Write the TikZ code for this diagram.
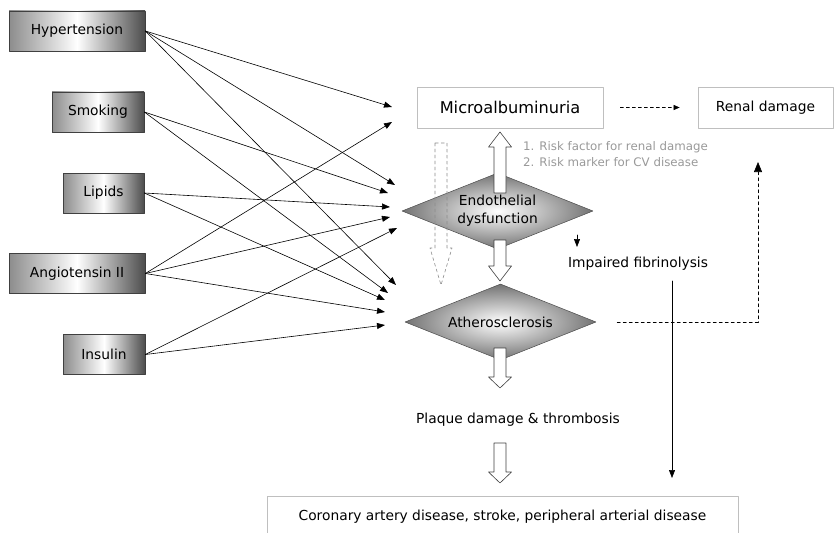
\documentclass[tikz,border=0pt]{standalone}
\usepackage{fontspec}
\setmainfont{DejaVu Sans}
\usepackage{tikz}
\usetikzlibrary{arrows.meta,shapes.geometric,positioning}

\tikzset{
  cause/.style={draw=black!75, line width=0.7pt, left color=black!45, right color=black!70,
    middle color=white, minimum height=40pt, inner sep=0pt, font=\fontsize{13.8}{16}\selectfont},
  outcome/.style={draw=black!25, line width=0.7pt, fill=white, minimum height=41pt, inner sep=0pt,
    font=\fontsize{13.8}{16}\selectfont},
  lesion/.style={diamond, aspect=2.5, minimum width=191pt, minimum height=76pt, inner sep=0pt,
    draw=black!70, line width=0.5pt, inner color=white, outer color=black!55,
    font=\fontsize{13.8}{16}\selectfont},
  feed/.style={line width=0.6pt, -{Triangle[length=8pt,width=6pt]}},
  hollow/.style={draw=black!75, line width=0.6pt, fill=white},
  label/.style={inner sep=0pt, font=\fontsize{13.8}{16}\selectfont}
}

\begin{document}
\begin{tikzpicture}[line cap=round,line join=round,x=1pt,y=-1pt]
\clip (0,0) rectangle (834,532);
% risk factors
\node[cause, minimum width=136pt] (hyper) at (77,31) {Hypertension};
\node[cause, minimum width=92pt] (smoke) at (98,112) {Smoking};
\node[cause, minimum width=81pt] (lipid) at (103.5,193) {Lipids};
\node[cause, minimum width=136pt] (angio) at (77,273.5) {Angiotensin II};
\node[cause, minimum width=82pt] (insul) at (104,354.5) {Insulin};

% where the arrows stop
\coordinate (m1) at (392,107);
\coordinate (m2) at (392,122);
\coordinate (e1) at (395,185);
\coordinate (e2) at (388,193);
\coordinate (e3) at (390,207);
\coordinate (e4) at (390,217);
\coordinate (e5) at (397,228);
\coordinate (a1) at (396,285);
\coordinate (a2) at (388,293);
\coordinate (a3) at (385,300);
\coordinate (a4) at (385,312);
\coordinate (a5) at (385,325);

\foreach \src/\dst in {hyper/m1,hyper/e1,hyper/a1,smoke/e2,smoke/a2,lipid/e3,lipid/a3,
  angio/m2,angio/e4,angio/a4,insul/e5,insul/a5}
  \draw[feed] (\src.east) -- (\dst);

% outcomes
\node[outcome, minimum width=186pt, font=\fontsize{16.2}{18}\selectfont] (micro) at (510,107.5) {Microalbuminuria};
\node[outcome, minimum width=135pt] (renal) at (765.5,107.5) {Renal damage};
\node[outcome, minimum width=471pt] (cvd) at (502.5,517) {Coronary artery disease, stroke, peripheral arterial disease};

\node[lesion] (endo) at (497.5,211)
  {\raisebox{-4pt}{\begin{tabular}{@{}c@{}}Endothelial\\[2pt]dysfunction\end{tabular}}};
\node[lesion] (ather) at (500.5,322) {Atherosclerosis};

\node[label] (fibrin) at (638,264) {Impaired fibrinolysis};
\node[label] (plaque) at (518,420) {Plaque damage \& thrombosis};
\node[anchor=west, align=left, inner sep=0pt, text=black!40, font=\fontsize{11.8}{16}\selectfont] (risk) at (523,154)
  {1. Risk factor for renal damage\\2. Risk marker for CV disease};

% hollow arrows
\draw[hollow] (494,193)--(494,147)--(488.5,147)--(500,132)--(511.5,147)--(506,147)--(506,193)--cycle;
\draw[hollow] (494,240)--(494,266)--(488.5,266)--(500,281)--(511.5,266)--(506,266)--(506,240)--cycle;
\draw[hollow] (494,348)--(494,377)--(488.5,377)--(500,388)--(511.5,377)--(506,377)--(506,348)--cycle;
\draw[hollow] (494,443)--(494,472)--(488.5,472)--(500,483)--(511.5,472)--(506,472)--(506,443)--cycle;
\draw[black!45, line width=0.6pt, dashed] (435,143)--(435,248)--(430,248)--(441,285)--(452,248)--(447,248)--(447,143)--cycle;

% other connectors
\draw[line width=0.6pt, dashed, -{Triangle[length=6pt,width=5pt]}, shorten <=17pt, shorten >=18pt] (micro) -- (renal);
\coordinate (rd) at (758,162);
\draw[line width=0.6pt, dashed, -{Triangle[length=10pt,width=8pt]}, shorten <=21pt] (ather.east) -| (rd);
\coordinate (s1) at (577,235);
\coordinate (s2) at (577,247);
\draw[feed] (s1) -- (s2);
\coordinate (f1) at (672,281);
\coordinate (f2) at (672,478);
\draw[feed] (f1) -- (f2);
\end{tikzpicture}
\end{document}
